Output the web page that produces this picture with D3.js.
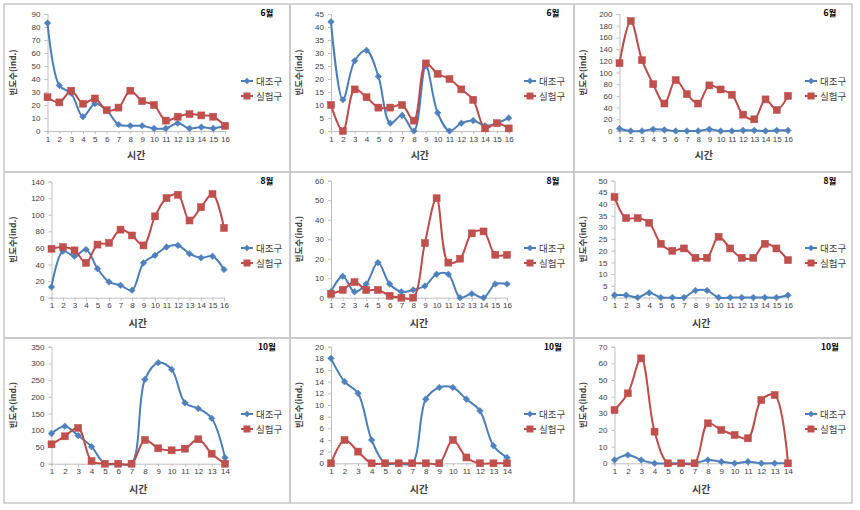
<!DOCTYPE html>
<html>
<head>
<meta charset="utf-8">
<script src="https://cdn.jsdelivr.net/npm/d3@7"></script>
<style>
  html, body { margin: 0; padding: 0; background: #fff; }
  svg { display: block; font-family: "Noto Sans CJK KR", "Noto Sans", sans-serif; }
</style>
</head>
<body>
<svg id="chart" width="860" height="510"></svg>
<script>
// ---------------- DATA ----------------
const seriesNames = ["대조구", "실험구"];
const xTitle = "시간";
const yTitle = "빈도수(ind.)";
const months = ["6월", "6월", "6월", "8월", "8월", "8월", "10월", "10월", "10월"];
const time16 = [1, 2, 3, 4, 5, 6, 7, 8, 9, 10, 11, 12, 13, 14, 15, 16];
const time14 = [1, 2, 3, 4, 5, 6, 7, 8, 9, 10, 11, 12, 13, 14];

const yTicks1 = [0, 10, 20, 30, 40, 50, 60, 70, 80, 90];
const yTicks2 = [0, 5, 10, 15, 20, 25, 30, 35, 40, 45];
const yTicks3 = [0, 20, 40, 60, 80, 100, 120, 140, 160, 180, 200];
const yTicks4 = [0, 20, 40, 60, 80, 100, 120, 140];
const yTicks5 = [0, 10, 20, 30, 40, 50, 60];
const yTicks6 = [0, 5, 10, 15, 20, 25, 30, 35, 40, 45, 50];
const yTicks7 = [0, 50, 100, 150, 200, 250, 300, 350];
const yTicks8 = [0, 2, 4, 6, 8, 10, 12, 14, 16, 18, 20];
const yTicks9 = [0, 10, 20, 30, 40, 50, 60, 70];

const control1 = [83, 35, 29, 11, 21, 16, 5, 4, 4, 2, 2, 6, 2, 3, 2, 4];
const treat1   = [26, 22, 31, 21, 25, 16, 18, 31, 23, 20, 8, 11, 13, 12, 11, 4];
const control2 = [42, 12, 27, 31, 21, 3, 6, 0, 25, 7, 0, 3, 4, 2, 3, 5];
const treat2   = [10, 0, 16, 13, 9, 9, 10, 4, 26, 22, 20, 16, 12, 1, 3, 1];
const control3 = [4, 0, 0, 3, 2, 0, 0, 0, 3, 0, 0, 1, 1, 0, 1, 1];
const treat3   = [116, 188, 121, 80, 47, 87, 63, 47, 78, 71, 62, 28, 20, 54, 36, 60];
const control4 = [13, 56, 50, 58, 35, 19, 15, 9, 42, 51, 61, 63, 53, 48, 50, 34];
const treat4   = [59, 61, 57, 42, 64, 66, 82, 75, 63, 98, 120, 124, 93, 109, 125, 84];
const control5 = [3, 11, 3, 7, 18, 7, 3, 4, 6, 12, 12, 0, 2, 0, 7, 7];
const treat5   = [2, 4, 8, 4, 4, 1, 0, 0, 28, 51, 18, 20, 33, 34, 22, 22];
const control6 = [1, 1, 0, 2, 0, 0, 0, 3, 3, 0, 0, 0, 0, 0, 0, 1];
const treat6   = [43, 34, 34, 32, 23, 20, 21, 17, 17, 26, 21, 17, 17, 23, 21, 16];
const control7 = [90, 112, 84, 51, 0, 0, 0, 252, 302, 282, 182, 165, 136, 18];
const treat7   = [58, 82, 107, 8, 0, 0, 0, 71, 46, 40, 45, 73, 30, 0];
const control8 = [18, 14, 12, 4, 0, 0, 0, 11, 13, 13, 11, 9, 3, 1];
const treat8   = [0, 4, 2, 0, 0, 0, 0, 0, 0, 4, 1, 0, 0, 0];
const control9 = [2, 5, 2, 0, 0, 0, 0, 2, 1, 0, 1, 0, 0, 0];
const treat9   = [32, 42, 63, 19, 0, 0, 0, 24, 20, 17, 15, 38, 41, 0];

const panelTimes = [time16, time16, time16, time16, time16, time16, time14, time14, time14];
const panelTicks = [yTicks1, yTicks2, yTicks3, yTicks4, yTicks5, yTicks6, yTicks7, yTicks8, yTicks9];
const panelControl = [control1, control2, control3, control4, control5, control6, control7, control8, control9];
const panelTreat = [treat1, treat2, treat3, treat4, treat5, treat6, treat7, treat8, treat9];

// ---------------- LAYOUT ----------------
const colEdges = [4, 290, 574, 852];
const rowEdges = [4, 172, 338, 503];
const plotBox = [
  { x0: 47.5, x1: 225, top: 14, bottom: 131, legX: 241, titleX: 267 },
  { x0: 331, x1: 508.7, top: 14, bottom: 131, legX: 524, titleX: 553 },
  { x0: 619.5, x1: 788, top: 14, bottom: 131, legX: 805, titleX: 830 },
  { x0: 51.5, x1: 224, top: 181.5, bottom: 297.7, legX: 241, titleX: 267 },
  { x0: 331, x1: 507, top: 180.7, bottom: 297.7, legX: 524, titleX: 553 },
  { x0: 614.5, x1: 788, top: 180.7, bottom: 297.5, legX: 805, titleX: 830 },
  { x0: 51.5, x1: 225, top: 346.7, bottom: 463.7, legX: 241, titleX: 267 },
  { x0: 331, x1: 507, top: 346.7, bottom: 463.3, legX: 524, titleX: 553 },
  { x0: 614.5, x1: 788, top: 346.7, bottom: 463.3, legX: 805, titleX: 830 }
];
const legendY = [[81, 96], [248, 263], [414, 429]];
const titleY = [13, 181, 347];
const xTitleY = [159, 327, 493];

const blueLine = "#4A7EBB", blueMark = "#4F81BD";
const redLine = "#BE4B48", redMark = "#C0504D";
const axisColor = "#BFBFBF";
const textColor = "#404040";

const svg = d3.select("#chart");

for (let r = 0; r < 3; r++) {
  for (let c = 0; c < 3; c++) {
    svg.append("rect")
      .attr("x", colEdges[c]).attr("y", rowEdges[r])
      .attr("width", colEdges[c + 1] - colEdges[c])
      .attr("height", rowEdges[r + 1] - rowEdges[r])
      .attr("fill", "none").attr("stroke", "#C8C8C8").attr("stroke-width", 1.5);
  }
}

const diamond = d3.symbol().type(d3.symbolDiamond2 || d3.symbolDiamond).size(28);

for (let i = 0; i < 9; i++) {
  const r = Math.floor(i / 3), c = i % 3;
  const b = plotBox[i];
  const times = panelTimes[i];
  const ticks = panelTicks[i];
  const x = d3.scalePoint().domain(times).range([b.x0, b.x1]);
  const y = d3.scaleLinear().domain([0, d3.max(ticks)]).range([b.bottom, b.top]);
  const g = svg.append("g");

  const ya = g.append("g").attr("transform", `translate(${b.x0},0)`)
    .call(d3.axisLeft(y).tickValues(ticks).tickSize(3).tickPadding(4));
  ya.select(".domain").attr("stroke", axisColor);
  ya.selectAll(".tick line").attr("stroke", axisColor);
  ya.selectAll(".tick text").attr("fill", textColor).attr("font-size", 8);

  const xa = g.append("g").attr("transform", `translate(0,${b.bottom})`)
    .call(d3.axisBottom(x).tickSize(3).tickPadding(2));
  xa.select(".domain").attr("stroke", axisColor);
  xa.selectAll(".tick line").attr("stroke", axisColor);
  xa.selectAll(".tick text").attr("fill", textColor).attr("font-size", 8);

  g.append("text").attr("x", (b.x0 + b.x1) / 2).attr("y", xTitleY[r])
    .attr("text-anchor", "middle").attr("font-size", 10).attr("font-weight", "bold")
    .attr("fill", textColor).text(xTitle);
  const ytx = colEdges[c] + 12, yty = (b.top + b.bottom) / 2;
  g.append("text").attr("transform", `translate(${ytx},${yty}) rotate(-90)`)
    .attr("text-anchor", "middle").attr("font-size", 8.5).attr("font-weight", "bold")
    .attr("fill", textColor).text(yTitle);

  g.append("text").attr("x", b.titleX).attr("y", titleY[r] + 3)
    .attr("text-anchor", "middle").attr("font-size", 8.5).attr("font-weight", "bold")
    .attr("fill", "#000").text(months[i]);

  const line = d3.line().x((d, k) => x(times[k])).y(d => y(d))
    .curve(d3.curveCatmullRom.alpha(0.5));

  const ctl = panelControl[i], trt = panelTreat[i];

  g.append("path").datum(ctl).attr("d", line).attr("fill", "none")
    .attr("stroke", blueLine).attr("stroke-width", 2);
  g.selectAll(".dm").data(ctl).join("path")
    .attr("transform", (d, k) => `translate(${x(times[k])},${y(d)})`)
    .attr("d", diamond).attr("fill", blueMark).attr("stroke", blueLine).attr("stroke-width", 0.5);

  g.append("path").datum(trt).attr("d", line).attr("fill", "none")
    .attr("stroke", redLine).attr("stroke-width", 2);
  g.selectAll(".sq").data(trt).join("rect")
    .attr("x", (d, k) => x(times[k]) - 3.5).attr("y", d => y(d) - 3.5)
    .attr("width", 7).attr("height", 7)
    .attr("fill", redMark).attr("stroke", redLine).attr("stroke-width", 0.5);

  const ly = legendY[r];
  const leg = [[blueLine, blueMark, "d"], [redLine, redMark, "s"]];
  leg.forEach((l, k) => {
    g.append("line").attr("x1", b.legX).attr("x2", b.legX + 12)
      .attr("y1", ly[k]).attr("y2", ly[k]).attr("stroke", l[0]).attr("stroke-width", 2);
    if (l[2] === "d") {
      g.append("path").attr("transform", `translate(${b.legX + 6},${ly[k]})`)
        .attr("d", diamond).attr("fill", l[1]);
    } else {
      g.append("rect").attr("x", b.legX + 2.5).attr("y", ly[k] - 3.5)
        .attr("width", 7).attr("height", 7).attr("fill", l[1]);
    }
    g.append("text").attr("x", b.legX + 15).attr("y", ly[k] + 3.5)
      .attr("font-size", 9.5).attr("fill", textColor).text(seriesNames[k]);
  });
}
</script>
</body>
</html>
